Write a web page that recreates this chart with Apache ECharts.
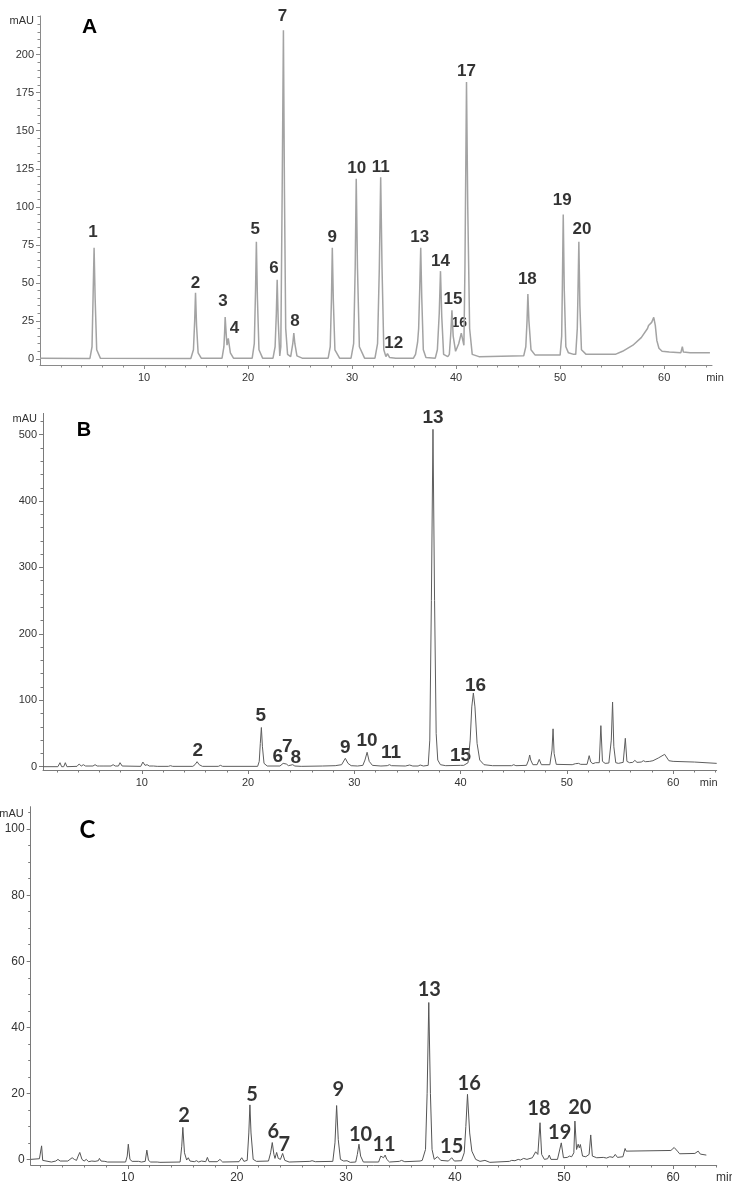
<!DOCTYPE html>
<html>
<head>
<meta charset="utf-8">
<title>Chromatograms A, B, C</title>
<script src="https://cdn.jsdelivr.net/npm/echarts@6.0.0/dist/echarts.min.js"></script>
<style>
  html, body { margin: 0; padding: 0; background: #fff; }
  #chart { width: 732px; height: 1184px; }
</style>
</head>
<body>
<div id="chart"></div>
<script>
// ---- data: [retention time (min), absorbance (mAU)] ----
const traceA = [
  [0.0, 0.5], [4.8, 0.3], [5.0, 8], [5.1, 40], [5.2, 73], [5.3, 40], [5.45, 6], [5.8, 0.5],
  [14.5, 0.3], [14.75, 6], [14.87, 25], [14.95, 43.5], [15.05, 22], [15.2, 4], [15.5, 0.5],
  [17.5, 0.5], [17.68, 8], [17.75, 18], [17.8, 27.5], [17.92, 14], [17.98, 9], [18.1, 13.5], [18.3, 4], [18.6, 0.5],
  [20.4, 0.5], [20.6, 10], [20.72, 45], [20.8, 77], [20.9, 40], [21.05, 6], [21.4, 0.5],
  [22.4, 0.5], [22.6, 8], [22.72, 30], [22.8, 52], [22.9, 25], [23.05, 2], [23.15, 8], [23.28, 110], [23.4, 216],
  [23.5, 110], [23.62, 20], [23.8, 3], [24.1, 1.5], [24.3, 10], [24.4, 17], [24.5, 10], [24.7, 2], [25.2, 0.5],
  [27.7, 0.5], [27.9, 8], [28.02, 40], [28.1, 73], [28.2, 38], [28.35, 6], [28.8, 0.5],
  [29.9, 0.5], [30.15, 10], [30.3, 60], [30.4, 118.5], [30.52, 60], [30.7, 8], [31.2, 0.5],
  [32.2, 0.5], [32.45, 10], [32.62, 60], [32.75, 119.5], [32.88, 60], [33.05, 6], [33.25, 1.5], [33.4, 3.5], [33.6, 1], [34.2, 0.5],
  [35.9, 0.5], [36.1, 3], [36.3, 11], [36.4, 20], [36.5, 45], [36.6, 73], [36.7, 40], [36.85, 6], [37.1, 1],
  [38.0, 0.5], [38.2, 6], [38.38, 30], [38.5, 57.7], [38.62, 28], [38.8, 3], [39.2, 1.5],
  [39.35, 3], [39.5, 18], [39.6, 32], [39.72, 15], [39.95, 5], [40.25, 10], [40.5, 17], [40.65, 12], [40.75, 9],
  [40.85, 60], [41.0, 182], [41.12, 100], [41.3, 20], [41.55, 3], [42.2, 1.5],
  [46.5, 2], [46.7, 8], [46.82, 25], [46.9, 42.6], [47.0, 25], [47.2, 6], [47.6, 2.5],
  [50.0, 2.5], [50.15, 15], [50.22, 50], [50.3, 95], [50.4, 45], [50.55, 8], [50.8, 4], [51.3, 3],
  [51.5, 3], [51.65, 20], [51.72, 45], [51.8, 77], [51.9, 35], [52.05, 6], [52.5, 3],
  [55.0, 3], [55.1, 4], [55.3, 3], [56.0, 5], [57.0, 9], [57.8, 14], [58.4, 20], [58.5, 22], [58.6, 21],
  [58.8, 24], [59.0, 27.3], [59.15, 22], [59.3, 12], [59.5, 7], [59.8, 5], [60.5, 4.5], [61.6, 4],
  [61.75, 8], [61.85, 4.5], [62.5, 4], [64.4, 4]
];

const traceB = [
  [0.7, 0], [2.1, 0], [2.3, 6], [2.45, 0], [2.65, 0], [2.8, 6], [2.95, 0], [3.9, 0.5], [4.1, 4], [4.3, 1],
  [4.5, 3], [4.7, 1], [5.4, 1], [5.6, 3], [5.8, 1], [6.0, 1], [6.15, 4], [6.35, 1], [7.1, 1], [7.3, 3],
  [7.5, 1], [7.8, 1], [7.95, 6], [8.15, 1], [9.9, 0.5], [10.1, 7], [10.3, 2], [10.5, 3], [10.7, 1],
  [11.1, 1], [11.25, 3], [11.45, 0.5], [12.5, 0.5], [12.7, 1.5], [12.9, 0.5],
  [14.8, 0.5], [15.0, 3], [15.2, 7.5], [15.4, 3], [15.7, 0.5], [17.2, 0.5], [17.4, 2], [17.6, 0.5],
  [20.9, 0.5], [21.05, 8], [21.15, 35], [21.25, 59], [21.35, 30], [21.5, 5], [21.8, 1],
  [23.0, 1], [23.3, 5], [23.45, 2], [23.6, 4], [23.8, 1.5], [24.2, 3], [24.4, 1], [25.0, 0.5],
  [27.0, 1], [28.2, 1.5], [28.8, 3], [29.15, 12.6], [29.4, 5], [29.7, 1.5], [30.3, 1],
  [30.8, 2], [31.0, 10], [31.2, 21.7], [31.4, 8], [31.7, 2], [32.5, 1], [33.1, 1.5], [33.3, 3], [33.5, 1.5],
  [34.8, 1], [35.2, 2.5], [35.5, 1], [36.0, 1], [36.2, 2.5], [36.5, 1],
  [36.95, 2], [37.1, 40], [37.25, 250], [37.4, 508], [37.55, 250], [37.7, 50], [37.85, 10], [38.1, 3], [38.6, 1.5],
  [40.0, 2], [40.3, 2], [40.7, 6], [40.9, 40], [41.05, 90], [41.2, 111], [41.35, 90], [41.55, 35], [41.8, 10],
  [42.2, 3], [43.0, 1.5], [44.8, 1.5], [45.0, 3], [45.2, 1.5], [46.2, 2], [46.4, 10], [46.5, 17.6], [46.6, 10],
  [46.8, 3], [47.2, 3], [47.4, 11], [47.6, 3], [48.4, 3], [48.6, 25], [48.7, 57], [48.8, 20], [49.0, 3.5],
  [50.5, 3], [50.8, 4.5], [50.95, 3.5], [51.1, 5], [51.3, 3.5], [51.9, 3.5], [52.1, 16.6], [52.25, 7], [52.3, 6],
  [52.45, 4.5], [52.7, 6], [52.85, 4], [53.05, 6], [53.2, 61.8], [53.35, 8], [53.6, 5], [53.95, 5.5], [54.05, 8],
  [54.18, 40], [54.3, 97.4], [54.42, 30], [54.6, 6], [54.85, 5], [55.3, 6.5], [55.5, 42.7], [55.65, 8],
  [55.9, 6], [56.2, 6.5], [56.4, 9.5], [56.6, 6.5], [57.0, 7], [57.2, 9], [57.4, 7.5], [57.8, 8], [57.9, 10],
  [58.1, 9], [58.6, 13], [59.2, 18.6], [59.6, 9], [60.0, 8], [62.0, 7], [64.1, 5]
];

const traceC = [
  [1.1, 0], [1.9, 0.2], [2.0, 0.5], [2.1, 4.1], [2.2, -0.3], [3.0, -0.8], [3.4, -0.5], [3.6, 0], [3.8, -0.5],
  [4.5, -0.5], [4.7, 0], [4.9, 0.5], [5.1, 0], [5.3, -0.3], [5.45, 1], [5.6, 2.1], [5.8, 0], [6.0, -0.5],
  [6.2, 0], [6.4, -0.7], [6.7, -0.5], [6.85, 0], [7.0, -0.6], [7.3, -0.4], [7.4, 0.3], [7.55, -0.5],
  [7.9, -0.6], [8.0, -0.1], [8.15, -0.8], [9.8, -0.8], [9.95, 1], [10.05, 4.6], [10.2, 0], [10.4, -0.6],
  [11.0, -0.6], [11.1, -0.3], [11.25, -0.8], [11.6, -0.6], [11.75, 2.8], [11.9, -0.3], [12.1, -0.8],
  [12.7, -0.8], [12.8, -0.5], [12.95, -0.9], [14.8, -0.8], [14.95, 4], [15.05, 9.7], [15.2, 2], [15.4, -0.2],
  [15.55, 0.5], [15.7, -0.5], [16.1, -0.7], [16.3, -0.4], [16.5, -0.8], [16.75, -0.5], [16.9, -0.9],
  [17.15, -0.7], [17.3, 0.6], [17.45, -0.7], [18.2, -0.7], [18.45, 0], [18.7, -0.8], [20.2, -0.7],
  [20.45, 0.5], [20.65, -0.6], [20.95, -0.3], [21.1, 8], [21.2, 16.5], [21.3, 8], [21.5, 0], [21.8, -0.6],
  [22.9, -0.5], [23.1, 2], [23.25, 5.1], [23.4, 1.5], [23.5, 0.3], [23.65, 2.1], [23.8, 0.3], [24.0, 0],
  [24.2, 1.8], [24.4, -0.3], [24.8, -0.8], [26.7, -0.6], [26.9, -0.4], [27.2, -0.7], [28.8, -0.6],
  [29.0, 5], [29.15, 16.3], [29.3, 6], [29.5, 0], [29.8, -0.5], [30.1, -0.4], [30.4, -0.9], [30.9, -0.8],
  [31.05, 1.5], [31.2, 4.6], [31.35, 1], [31.6, -0.8], [33.0, -0.8], [33.2, 1], [33.3, 1.3], [33.45, 0.5],
  [33.6, 1.3], [33.75, 0], [34.0, -0.8], [34.9, -0.6], [35.1, -0.3], [35.4, -0.7], [36.8, -0.5], [37.0, -0.3],
  [37.3, 3], [37.45, 20], [37.6, 47.5], [37.75, 20], [37.9, 3], [38.1, 0], [38.4, 0.8], [38.7, -0.3],
  [39.4, -0.5], [39.7, 0.5], [39.95, -0.5], [40.6, -0.4], [40.85, 2], [41.0, 10], [41.15, 19.7], [41.35, 8],
  [41.55, 2.5], [41.7, 2], [41.9, 0], [42.3, -0.6], [42.75, -0.3], [43.2, -0.9], [45.0, -0.6], [45.2, -0.3],
  [45.5, -0.4], [45.8, 0], [46.0, -0.2], [46.3, 0.3], [46.6, 0], [47.1, 0.5], [47.4, 2.3], [47.6, 1.5],
  [47.8, 11.1], [47.95, 1.5], [48.2, 0], [48.5, 0.2], [48.65, 1.3], [48.8, 0], [49.4, 0], [49.75, 5],
  [49.95, 0.5], [50.3, 0.6], [50.5, 1], [50.7, 0.8], [50.9, 2], [51.0, 11.6], [51.15, 3], [51.3, 4.6],
  [51.4, 3.5], [51.5, 4.5], [51.7, 1], [52.0, 0.8], [52.3, 1.5], [52.45, 7.4], [52.6, 1], [53.0, 0.5],
  [53.6, 0.6], [53.9, 0.4], [54.2, 0.8], [54.5, 0.6], [54.7, 1.5], [54.9, 0.6], [55.4, 0.8], [55.6, 3.3],
  [55.7, 2.5], [59.8, 2.7], [60.1, 3.6], [60.4, 2.5], [60.6, 1.7], [62.0, 1.8], [62.3, 2.5], [62.5, 1.6],
  [63.05, 1.3]
];

// peak numbers: [time, mAU, text] where the number is drawn
const labelsA = [
  [5.1, 83.3, '1'], [14.95, 49.6, '2'], [17.6, 37.6, '3'], [18.7, 20, '4'], [20.7, 85, '5'],
  [22.5, 59.5, '6'], [23.3, 225, '7'], [24.5, 24.5, '8'], [28.1, 80, '9'], [30.45, 125.4, '10'],
  [32.75, 126, '11'], [34.0, 10.3, '12'], [36.5, 79.8, '13'], [38.5, 64.3, '14'], [39.7, 39, '15'],
  [41.0, 188.9, '17'], [46.85, 52.3, '18'], [50.2, 104.3, '19'], [52.1, 85, '20']
];
const smallLabelsA = [[40.3, 23.4, '16']];
const labelsB = [
  [15.27, 23.6, '2'], [21.2, 76.4, '5'], [22.8, 15, '6'], [23.7, 30, '7'], [24.5, 13.6, '8'],
  [29.15, 29.2, '9'], [31.2, 39, '10'], [33.45, 21, '11'], [37.4, 524.7, '13'], [40.0, 16.6, '15'],
  [41.4, 122, '16']
];
const labelsC = [
  [15.16, 13.2, '2'], [21.4, 19.5, '5'], [23.35, 8.4, '6'], [24.35, 4.6, '7'], [29.3, 21.3, '9'],
  [31.35, 7.6, '10'], [33.5, 4.5, '11'], [37.65, 51.3, '13'], [39.7, 3.8, '15'], [41.3, 23, '16'],
  [47.7, 15.5, '18'], [49.6, 8.1, '19'], [51.45, 15.8, '20']
];

// tick labels
const xTickLabels = [10, 20, 30, 40, 50, 60];
const yTickLabelsA = [0, 25, 50, 75, 100, 125, 150, 175, 200];
const yTickLabelsB = [0, 100, 200, 300, 400, 500];
const yTickLabelsC = [0, 20, 40, 60, 80, 100];

function steps(from, to, step) {
  const out = [];
  for (let v = from; v <= to + 1e-9; v += step) out.push(+v.toFixed(3));
  return out;
}

const chart = echarts.init(document.getElementById('chart'), null, { renderer: 'canvas' });

const panels = [
  {
    letter: 'A', letterPos: [89.7, 27.7], letterFont: 'bold 21px "Liberation Sans", Arial, sans-serif',
    grid: { left: 40, top: 15.9, width: 672, height: 349.1 },
    x: [0, 64.6], y: [-4, 225.5], yLabels: yTickLabelsA, yMinor: steps(0, 225, 5),
    trace: traceA, color: '#a3a3a3', width: 1.5, axisColor: '#8a8a8a',
    labels: labelsA, labelFont: ['"Liberation Sans", Arial', 17], fontSize: 11, nameSize: 11,
    yNamePad: [0, 6, 0, 0], xNameGap: 3
  },
  {
    letter: 'B', letterPos: [84, 430.3], letterFont: 'bold 20px "Liberation Sans", Arial, sans-serif',
    grid: { left: 43, top: 413.4, width: 673.7, height: 356.6 },
    x: [0.7, 64.1], y: [-5, 532], yLabels: yTickLabelsB, yMinor: steps(0, 520, 20),
    trace: traceB, color: '#5e5e5e', width: 1, axisColor: '#7a7a7a',
    labels: labelsB, labelFont: ['"Liberation Sans", Arial', 19], fontSize: 11, nameSize: 11,
    yNamePad: [0, 6, 0, 0], xNameGap: -8
  },
  {
    letter: 'C', letterPos: [87.5, 830.3], letterFont: 'bold 24px Lato, "Open Sans", sans-serif',
    grid: { left: 30.7, top: 806.7, width: 686, height: 358.3 },
    x: [1.1, 64.0], y: [-1.7, 106.8], yLabels: yTickLabelsC, yMinor: steps(0, 105, 5),
    trace: traceC, color: '#555555', width: 1, axisColor: '#7a7a7a',
    labels: labelsC, labelFont: ['Lato', 20], fontSize: 12, nameSize: 11,
    yNamePad: [2, 7, 0, 0], xNameGap: 9
  }
];

const grid = [], xAxis = [], yAxis = [], series = [], graphic = [];

panels.forEach((p, i) => {
  // fixed pixel box, no automatic shrinking to keep names inside the canvas
  grid.push(Object.assign({ containLabel: false, outerBoundsMode: 'none' }, p.grid));
  const textStyle = { color: '#333', fontSize: p.fontSize, fontFamily: '"Liberation Sans", Arial, sans-serif' };

  // major x axis: line, ticks every 10 min and labels
  xAxis.push({
    type: 'value', gridIndex: i, position: 'bottom', min: p.x[0], max: p.x[1],
    name: 'min', nameLocation: 'end', nameGap: p.xNameGap,
    nameTextStyle: Object.assign({}, textStyle, { align: 'center', verticalAlign: 'top', padding: [7, 0, 0, 0] }),
    axisLine: { show: true, onZero: false, lineStyle: { color: p.axisColor, width: 1 } },
    axisTick: { show: true, length: 4, customValues: xTickLabels, lineStyle: { color: p.axisColor } },
    axisLabel: Object.assign({ show: true, margin: 7, customValues: xTickLabels }, textStyle),
    splitLine: { show: false }
  });
  // minor x ticks every 2 min
  xAxis.push({
    type: 'value', gridIndex: i, position: 'bottom', min: p.x[0], max: p.x[1],
    axisLine: { show: false, onZero: false },
    axisTick: { show: true, length: 2.5, customValues: steps(2, 64, 2), lineStyle: { color: p.axisColor } },
    axisLabel: { show: false }, splitLine: { show: false }
  });

  yAxis.push({
    type: 'value', gridIndex: i, position: 'left', min: p.y[0], max: p.y[1],
    name: 'mAU', nameLocation: 'end', nameGap: 0,
    nameTextStyle: Object.assign({}, textStyle, {
      fontSize: p.nameSize, align: 'right', verticalAlign: 'top', padding: p.yNamePad
    }),
    axisLine: { show: true, onZero: false, lineStyle: { color: p.axisColor, width: 1 } },
    axisTick: { show: true, length: 4, customValues: p.yLabels, lineStyle: { color: p.axisColor } },
    axisLabel: Object.assign({ show: true, margin: 6, customValues: p.yLabels }, textStyle),
    splitLine: { show: false }
  });
  yAxis.push({
    type: 'value', gridIndex: i, position: 'left', min: p.y[0], max: p.y[1],
    axisLine: { show: false, onZero: false },
    axisTick: { show: true, length: 2.5, customValues: p.yMinor, lineStyle: { color: p.axisColor } },
    axisLabel: { show: false }, splitLine: { show: false }
  });

  series.push({
    type: 'line', name: 'trace ' + p.letter,
    xAxisIndex: 2 * i, yAxisIndex: 2 * i,
    data: p.trace, showSymbol: false, symbol: 'none', smooth: false,
    lineStyle: { color: p.color, width: p.width }, silent: true
  });

  // peak numbers drawn centred on their [time, mAU] point
  const labelSeries = (data, size) => ({
    type: 'scatter', xAxisIndex: 2 * i, yAxisIndex: 2 * i,
    data: data, symbolSize: 0, clip: false, silent: true,
    itemStyle: { color: 'transparent' },
    label: {
      show: true, position: [0, 0], align: 'center', verticalAlign: 'middle',
      formatter: d => d.value[2],
      color: '#000', textBorderWidth: 0, fontWeight: 'bold',
      fontFamily: p.labelFont[0] + ', sans-serif', fontSize: size
    }
  });
  series.push(labelSeries(p.labels, p.labelFont[1]));
  if (i === 0) series.push(labelSeries(smallLabelsA, 14));

  graphic.push({
    type: 'text', x: p.letterPos[0], y: p.letterPos[1],
    style: { text: p.letter, font: p.letterFont, fill: '#000', align: 'center', verticalAlign: 'middle' }
  });
});

chart.setOption({
  backgroundColor: '#ffffff',
  animation: false,
  grid: grid,
  xAxis: xAxis,
  yAxis: yAxis,
  series: series,
  graphic: graphic
});
</script>
</body>
</html>
